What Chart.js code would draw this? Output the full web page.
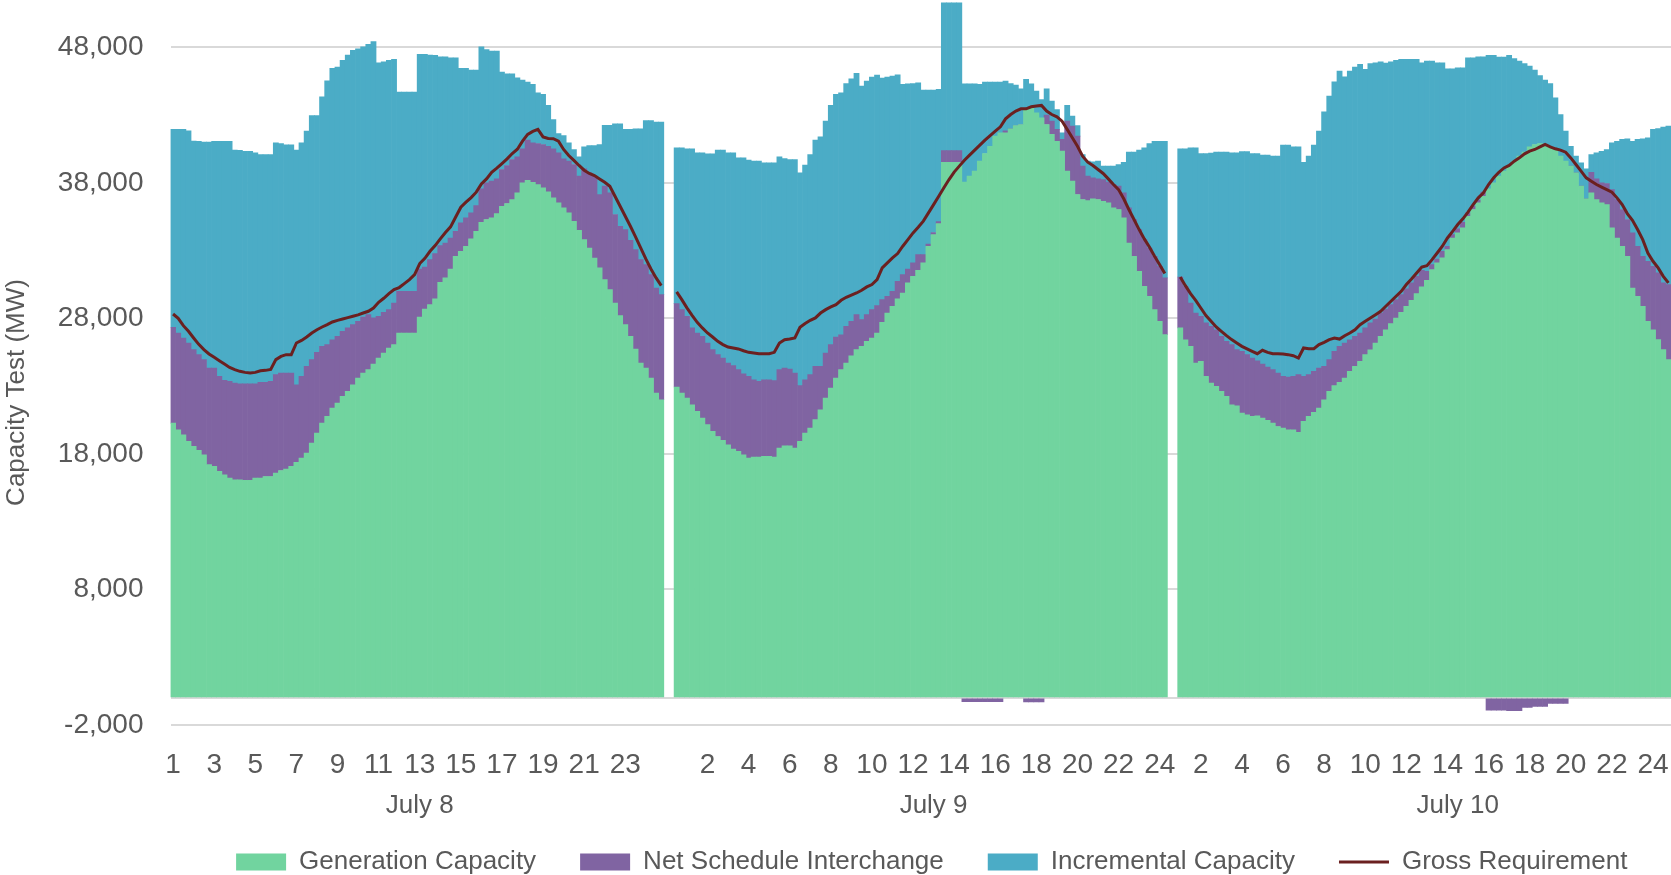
<!DOCTYPE html>
<html>
<head>
<meta charset="utf-8">
<script src="https://cdn.jsdelivr.net/npm/chart.js@4/dist/chart.umd.min.js"></script>
<style>
html,body{margin:0;padding:0;background:#ffffff;}
#wrap{width:1671px;height:875px;position:relative;}
</style>
</head>
<body>
<div id="wrap"><canvas id="c"></canvas></div>
<script>
// ---- categories / tick labels ----
const dayNames = ['July 8', 'July 9', 'July 10'];
const intervalsPerDay = 96;          // 15-minute intervals
const gapSlots = 2;                  // blank categories between days
const hourLabelEvery = 8;            // an hour label on every 8th category
const dateLabelIndex = [48, 148, 250];
const yTickValues = [-2000, 0, 8000, 18000, 28000, 38000, 48000];
const yAxisTitle = 'Capacity Test (MW)';

// ---- series values (MW), 96 per day ----
const genJul8 = [20280,19790,19420,18930,18560,18260,17940,17210,17090,16720,16470,16220,16090,16090,16050,16050,16220,16220,16340,16340,16590,16780,16880,17080,17380,17700,18060,18800,19540,20280,20770,21390,21760,22250,22620,23110,23600,23970,24220,24640,25080,25450,25820,26070,26930,26930,26930,26930,
28110,28700,29020,29440,30670,30990,31650,32590,32960,33330,33870,34430,35100,35300,35420,35740,36280,36480,36770,37270,38010,38200,38050,37880,37640,37340,36900,36530,36160,35790,35170,34510,33820,33200,32460,31730,30870,30130,29140,28210,27540,26680,25740,24710,24340,23600,22500,22000];
const nsiJul8 = [7070,7140,7140,7260,7140,7070,7020,7130,7250,7010,6960,7140,7140,7090,7130,7130,6960,7060,6940,7020,7260,7190,7090,6890,5730,6030,6410,6160,5960,5660,5300,5040,4920,4800,4680,4430,4190,4140,4060,3400,3080,3000,2830,3070,3070,3070,3070,3070,
3540,3100,3320,3350,2700,2580,2290,1840,2090,2090,1920,1900,2460,2710,2710,2560,2710,2810,2960,2660,2510,2960,2910,3030,3200,3370,3620,3690,3620,3820,4190,3990,5220,5540,6040,5410,6890,7140,6530,6590,7020,7090,7340,7630,7630,7640,7750,7760];
const incJul8 = [14600,15020,15390,15660,15390,15750,16050,16670,16740,17350,17650,17720,17190,17220,17160,17160,17040,16820,16820,16740,17110,16930,16840,16840,17310,17230,17360,18020,17480,18420,19460,20020,19870,19990,20140,20240,20110,19940,19940,20390,18710,18490,18390,17980,14700,14700,14700,14700,
15840,15690,15090,14620,13940,13740,13300,12810,11400,11030,10540,10000,10490,9840,9600,9430,7190,6770,6330,5830,5070,4280,4310,3740,3690,3010,2160,1430,1720,1350,1110,1430,1620,2020,2260,3700,4500,4990,6690,7560,7390,8180,8910,9650,10640,11370,12240,12730];
const reqJul8 = [28330,28010,27470,27050,26560,26090,25700,25380,25130,24880,24640,24390,24220,24100,24020,23970,24020,24140,24170,24240,24960,25200,25330,25330,26190,26380,26630,26930,27170,27370,27540,27740,27860,27960,28060,28160,28260,28400,28530,28770,29190,29490,29830,30130,30280,30570,30870,31240,
32050,32440,32960,33380,33870,34340,34760,35490,36210,36580,36920,37320,37930,38300,38790,39090,39430,39780,40170,40490,41080,41580,41800,41950,41400,41280,41260,41080,40470,40020,39660,39290,38940,38700,38550,38300,38050,37760,37020,36280,35540,34800,34020,33210,32390,31650,30990,30420];

const genJul9 = [22940,22490,22130,21630,21140,20650,20160,19670,19290,19000,18680,18360,18190,17940,17700,17770,17770,17820,17820,17770,18430,18610,18610,18430,18930,19540,19910,20530,21260,22130,22860,23600,24220,24710,25250,25700,25940,26310,26560,26930,27710,28400,28900,29440,29880,30620,31110,31560,
32100,33330,34190,35000,39530,39530,39530,39530,38060,38500,38870,39610,40170,40710,41450,41700,41700,41990,42240,42310,43420,43550,43180,42810,42310,41580,41080,40350,38870,38130,37150,36780,36700,36830,36780,36650,36530,36160,36040,35420,33570,32590,31480,30370,29640,28650,27790,26810];
const nsiJul9 = [6150,6160,6030,5670,5790,6030,6030,6030,6040,6080,6030,6160,6030,5980,6030,5710,5590,5660,5660,5640,5790,5730,5660,5540,4110,3940,3940,3940,3210,3320,3210,3030,2580,2710,2540,2580,1970,1970,2090,2020,1680,1240,1100,1300,1360,1030,990,1150,
610,150,150,150,860,860,860,860,-280,-280,-280,-280,-280,-280,-280,-280,150,0,0,0,-300,-300,-300,-300,690,980,870,860,3690,4060,4300,2460,1800,1550,1520,1600,1530,1720,1720,1850,2590,2710,3080,3450,3560,3940,4060,4180];
const incJul9 = [11500,11940,12360,13220,13290,13540,13960,14450,15090,15340,15510,15700,15630,15930,15950,16130,16250,16000,16000,16070,15710,15460,15460,15760,15700,15830,16250,16690,16930,17110,17650,17900,17850,17920,17900,17800,17240,17230,17160,17010,16350,16170,15880,15240,14030,13670,13240,12680,
12140,11370,10510,9750,10910,10910,10910,10910,7260,6820,6450,5660,5270,4730,3990,3740,3660,3350,2980,2640,2220,1770,1600,1350,1950,1480,1470,490,1160,740,790,860,1110,1180,1310,990,1180,1360,1600,2260,4110,4970,5860,6770,7710,8490,9230,10090];
const reqJul9 = [29960,29390,28780,28230,27710,27300,26930,26630,26310,26070,25890,25820,25750,25620,25500,25450,25400,25400,25400,25500,26190,26430,26480,26560,27350,27620,27860,28040,28400,28650,28850,29020,29340,29560,29730,29880,30080,30330,30500,30870,31730,32100,32470,32790,33330,33820,34310,34730,
35180,35790,36400,37020,37640,38250,38800,39240,39680,40050,40420,40790,41160,41500,41820,42140,42730,43050,43300,43470,43470,43620,43670,43720,43300,43050,42880,42560,41950,41330,40710,39980,39530,39290,38990,38700,38300,37880,37510,36830,36040,35300,34560,33870,33280,32590,31970,31310];

const genJul10 = [27300,26430,25940,24710,24830,23730,23230,22990,22620,22250,21630,21560,21020,20890,20770,20820,20650,20480,20280,20030,19910,19790,19790,19590,20400,20770,21070,21390,22000,22620,23040,23280,23600,24100,24460,24830,25330,25690,26190,26680,27170,27620,28030,28450,28900,29340,29830,30330,
30820,31600,32100,32470,33080,33940,34310,34680,35540,36040,36530,37020,37560,38010,38500,38870,39240,39610,39980,40270,40660,40840,40910,40840,40660,40420,39980,39610,39240,38740,37760,36820,37270,36770,36530,36400,34680,33940,33330,32590,30250,29630,28900,27790,27170,26440,25700,24960];
const nsiJul10 = [3760,3940,3200,3690,3330,3940,4190,4180,4060,4060,4440,4140,4550,4440,4310,4060,3990,3940,3940,3940,3820,3890,3940,4260,3330,3080,3030,2950,2470,2340,2530,2660,2590,2330,2220,2100,1970,1980,1770,1720,1530,1400,1360,1310,1280,1280,1280,1220,
660,370,290,490,250,250,300,420,250,240,190,300,-900,-900,-900,-900,-950,-950,-950,-700,-700,-620,-620,-620,-400,-400,-400,-400,0,0,0,0,1520,1530,1470,1560,2830,2830,2710,2710,4060,3700,3690,4430,4680,4920,4920,5540];
const incJul10 = [9460,10150,11450,12190,12010,12500,12780,13100,13590,13960,14150,14520,14750,14990,15090,15290,15410,15630,15760,16010,17060,17110,16940,16820,15800,16130,16690,17480,18780,19450,19900,20310,19640,19820,19870,19820,19080,19130,18910,18540,18140,17920,17650,17360,16940,16500,16010,15320,
15520,15030,14480,13910,13100,12240,11890,11400,11450,10960,10590,9990,9850,9400,8790,8420,8170,7560,7010,6530,5960,5490,5020,4750,4680,3860,3070,2210,1470,1240,1720,2220,1310,1920,2340,2510,3450,4310,5170,5960,6770,7880,8670,9110,10100,10660,11500,11690];
const reqJul10 = [31060,30420,29830,29340,28770,28210,27790,27370,27050,26730,26440,26190,25940,25750,25570,25400,25650,25500,25400,25400,25380,25330,25250,25080,25820,25770,25770,26070,26240,26440,26560,26480,26730,26930,27170,27540,27790,28030,28280,28530,28900,29270,29640,30000,30500,30910,31360,31800,
31900,32340,32830,33330,33940,34430,34930,35350,35840,36400,36900,37270,37880,38380,38790,39110,39290,39610,39850,40150,40350,40470,40660,40840,40660,40520,40420,40270,39850,39360,38870,38380,38130,37880,37690,37510,37320,36900,36400,35740,35250,34560,33820,32830,32220,31730,31110,30620];

// ---- assemble the category axis and series ----
const genByDay = [genJul8, genJul9, genJul10];
const nsiByDay = [nsiJul8, nsiJul9, nsiJul10];
const incByDay = [incJul8, incJul9, incJul10];
const reqByDay = [reqJul8, reqJul9, reqJul10];

const categories = [], generation = [], interchange = [], incremental = [], requirement = [];
dayNames.forEach((d, di) => {
  if (di > 0) {
    for (let g = 0; g < gapSlots; g++) {
      categories.push(''); generation.push(null); interchange.push(null); incremental.push(null); requirement.push(null);
    }
  }
  for (let k = 0; k < intervalsPerDay; k++) {
    categories.push(String(Math.floor(k / 4) + 1));
    generation.push(genByDay[di][k]);
    interchange.push(nsiByDay[di][k]);
    incremental.push(incByDay[di][k]);
    requirement.push(reqByDay[di][k]);
  }
});

const TEXT = '#595959';
const FONT = '"Liberation Sans", Arial, sans-serif';
Chart.defaults.font.family = FONT;
Chart.defaults.font.size = 26;
Chart.defaults.color = TEXT;

const extraText = {
  id: 'extraText',
  afterDraw(chart) {
    const x = chart.scales.x, ctx = chart.ctx, area = chart.chartArea;
    ctx.save();
    ctx.font = '26px ' + FONT;
    ctx.fillStyle = TEXT;
    ctx.textAlign = 'center';
    ctx.textBaseline = 'middle';
    dayNames.forEach((n, i) => ctx.fillText(n, x.getPixelForValue(dateLabelIndex[i]), x.top + 81));
    // y axis title, centred over plot + category labels
    ctx.translate(17, (area.top + x.bottom) / 2 - 5);
    ctx.rotate(-Math.PI / 2);
    ctx.fillText(yAxisTitle, 0, 0);
    ctx.restore();
  }
};
const legendShift = {
  id: 'legendShift',
  afterLayout(chart) {
    const lg = chart.legend;
    if (lg) { lg.top += 10; lg.bottom += 10; lg.left += 11; lg.right += 11; }
  }
};

new Chart(document.getElementById('c'), {
  data: {
    labels: categories,
    datasets: [
      { type: 'bar', label: 'Generation Capacity', data: generation, backgroundColor: '#71D49F', borderWidth: 0, barPercentage: 1, categoryPercentage: 1, order: 1 },
      { type: 'bar', label: 'Net Schedule Interchange', data: interchange, backgroundColor: '#8064A2', borderWidth: 0, barPercentage: 1, categoryPercentage: 1, order: 1 },
      { type: 'bar', label: 'Incremental Capacity', data: incremental, backgroundColor: '#4BACC6', borderWidth: 0, barPercentage: 1, categoryPercentage: 1, order: 1 },
      { type: 'line', label: 'Gross Requirement', data: requirement, borderColor: '#6B2020', backgroundColor: '#6B2020', borderWidth: 3, pointRadius: 0, tension: 0, spanGaps: false, stack: 'req', order: 0 }
    ]
  },
  options: {
    responsive: true,
    maintainAspectRatio: false,
    animation: false,
    devicePixelRatio: 1,
    layout: { padding: { left: 0, right: 0, top: 0, bottom: 0 } },
    plugins: {
      tooltip: { enabled: false },
      legend: {
        position: 'bottom',
        fullSize: false,
        labels: {
          usePointStyle: true,
          pointStyleWidth: 50,
          boxHeight: 17,
          padding: 44,
          color: TEXT,
          font: { size: 26 },
          sort: (a, b) => a.datasetIndex - b.datasetIndex,
          generateLabels: (chart) => Chart.defaults.plugins.legend.labels.generateLabels(chart).map(l => ({
            ...l,
            pointStyle: l.datasetIndex === 3 ? 'line' : 'rect',
            lineWidth: l.datasetIndex === 3 ? 3 : 0
          }))
        }
      }
    },
    scales: {
      x: {
        stacked: true,
        offset: true,
        grid: { display: false },
        border: { display: false },
        ticks: {
          autoSkip: false, maxRotation: 0, minRotation: 0, padding: 15, color: TEXT, font: { size: 28 },
          callback: (v, i) => (i % hourLabelEvery === 0 ? categories[i] : '')
        },
        afterFit: (s) => { s.height = 70; s.paddingLeft = 0; s.paddingRight = 0; }
      },
      y: {
        stacked: true,
        min: -2000,
        max: 51500,
        afterBuildTicks: (s) => { s.ticks = yTickValues.map(v => ({ value: v })); },
        afterFit: (s) => { s.width = 170.5; s.paddingTop = 0; s.paddingBottom = 0; },
        grid: { color: '#D9D9D9', lineWidth: 2, drawTicks: false },
        border: { display: false },
        ticks: { padding: 27, color: TEXT, font: { size: 28 }, callback: (v) => (v === 0 ? '' : v.toLocaleString('en-US')) },
        title: { display: false }
      }
    }
  },
  plugins: [extraText, legendShift]
});
</script>
</body>
</html>
